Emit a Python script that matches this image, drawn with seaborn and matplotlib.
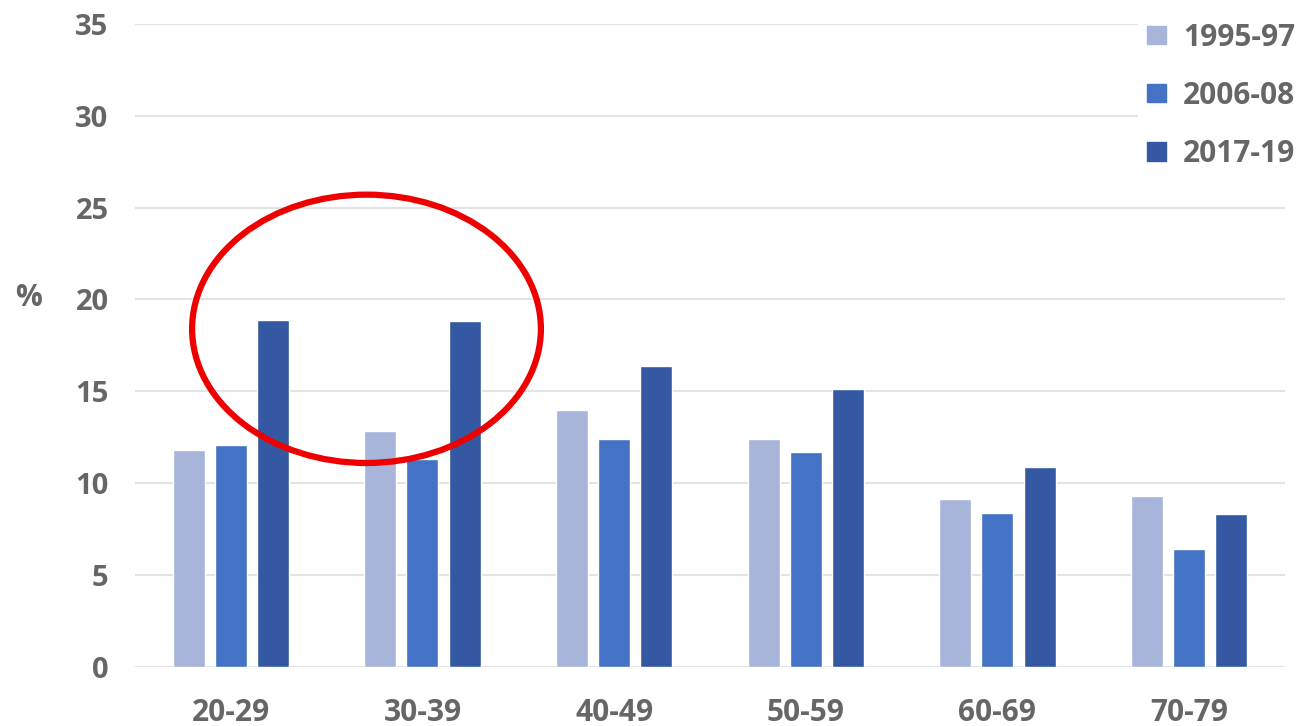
import matplotlib
matplotlib.use("Agg")
import matplotlib.pyplot as plt
from matplotlib.patches import Ellipse
import seaborn as sns
import pandas as pd

age_groups = ["20-29", "30-39", "40-49", "50-59", "60-69", "70-79"]
periods = ["1995-97", "2006-08", "2017-19"]
share_1995_97 = [11.8, 12.85, 14.0, 12.4, 9.15, 9.3]
share_2006_08 = [12.1, 11.3, 12.4, 11.7, 8.4, 6.4]
share_2017_19 = [18.9, 18.8, 16.4, 15.1, 10.9, 8.3]
y_ticks = [0, 5, 10, 15, 20, 25, 30, 35]

colors = ["#A8B5DA", "#4472C4", "#3459A2"]
text_color = "#666666"

df = pd.DataFrame({
    "age": age_groups * 3,
    "period": [p for p in periods for _ in age_groups],
    "pct": share_1995_97 + share_2006_08 + share_2017_19,
})

sns.set_theme(style="white")
plt.rcParams["font.family"] = ["Open Sans", "DejaVu Sans"]

fig = plt.figure(figsize=(13.03, 7.26), dpi=100)
ax = fig.add_axes([0.1036, 0.0813, 0.8825, 0.886])

sns.barplot(data=df, x="age", y="pct", hue="period", order=age_groups,
            hue_order=periods, palette=colors, width=0.66, gap=0.24,
            saturation=1, ax=ax, legend=False)

ax.set_xlim(-0.5, 5.5)
ax.set_ylim(0, 35)
ax.set_yticks(y_ticks)
ax.yaxis.grid(True, color="#E3E3E3", linewidth=1.5)
ax.set_axisbelow(True)
for s in ax.spines.values():
    s.set_visible(False)
ax.tick_params(axis="y", length=0, pad=19, labelsize=21, labelcolor=text_color)
ax.tick_params(axis="x", length=0, pad=22, labelsize=21.5, labelcolor=text_color)
for lab in ax.get_xticklabels() + ax.get_yticklabels():
    lab.set_fontweight("bold")
ax.set_xlabel("")
ax.set_ylabel("")
fig.text(0.0218, 0.589, "%", fontsize=21.5, fontweight="bold", color=text_color,
         va="center", ha="center")

# highlight of the two youngest groups' latest values
ax.add_patch(Ellipse((0.708, 18.4), 1.82, 14.6, fill=False, edgecolor="#EE0000",
                     linewidth=4.5, clip_on=False, zorder=5))

handles = [plt.Rectangle((0, 0), 1, 1, color=c) for c in colors]
leg = fig.legend(handles, periods, loc="upper left", bbox_to_anchor=(0.8734, 0.981),
                 frameon=True, facecolor="white", edgecolor="white", framealpha=1,
                 fontsize=21.5, handlelength=0.64, handleheight=0.57,
                 handletextpad=0.57, labelspacing=0.94, borderpad=0.3,
                 borderaxespad=0)
for t in leg.get_texts():
    t.set_color(text_color)
    t.set_fontweight("bold")

fig.savefig("out.png", dpi=100, facecolor="white")
